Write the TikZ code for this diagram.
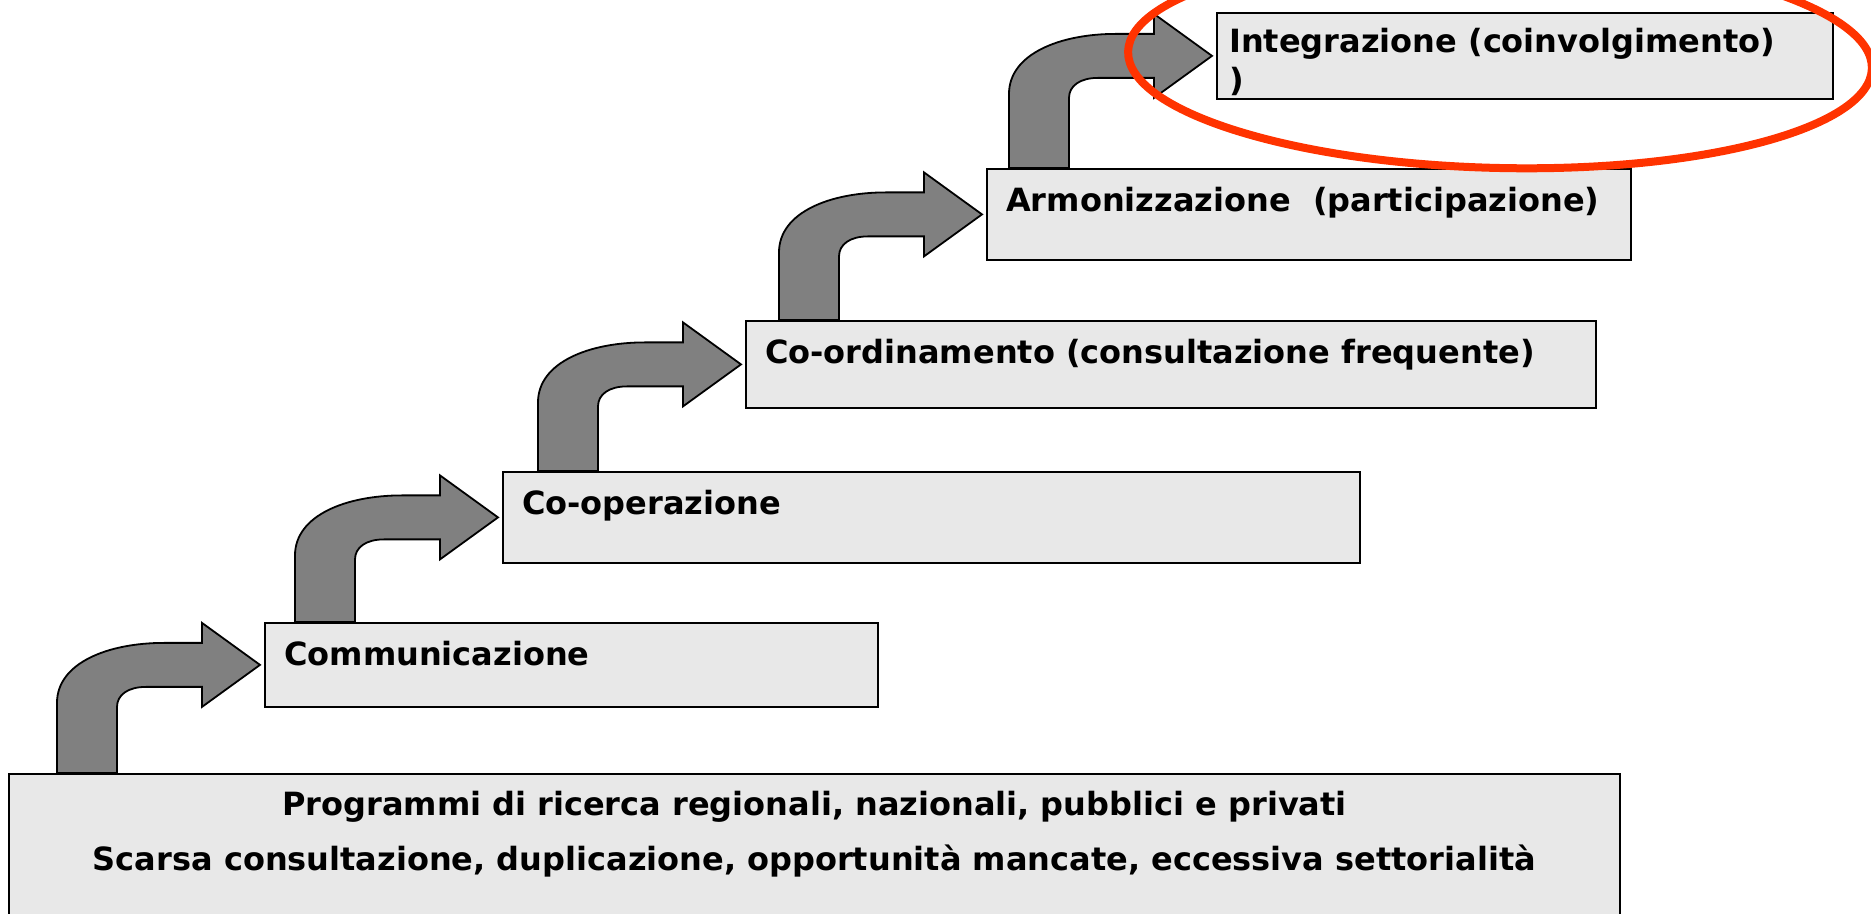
\documentclass[tikz,border=0pt]{standalone}
\usepackage{fontspec}
\setmainfont{DejaVu Sans}
\usepackage{tikz}
\usetikzlibrary{calc}
\definecolor{boxgray}{HTML}{E8E8E8}
\definecolor{arrowgray}{HTML}{808080}
\definecolor{ringred}{HTML}{FF3300}
\tikzstyle{stage} = [draw=black, fill=boxgray, line width=1.8pt, inner sep=0pt, anchor=north west]
\tikzstyle{stage text} = [font=\fontsize{32}{39}\selectfont\bfseries, anchor=base west, inner sep=0pt, align=left]
\tikzstyle{step arrow} = [draw=black, fill=arrowgray, line width=1.8pt]
\tikzstyle{ring} = [draw=ringred, line width=8pt]

% bent block arrow from the top of #1 to the west side of #2
\newcommand{\steparrow}[2]{%
  \path[step arrow] let \p1=($(#2.west)+(-4pt,0)$), \p2=(#1.north) in
    (\x1-203pt,\y2) -- (\x1-203pt,\y1-38pt)
    .. controls (\x1-203pt,\y1+2pt) and (\x1-152pt,\y1+22pt) .. (\x1-96pt,\y1+22pt)
    -- (\x1-58pt,\y1+22pt) -- (\x1-58pt,\y1+42pt) -- (\x1,\y1)
    -- (\x1-58pt,\y1-42pt) -- (\x1-58pt,\y1-22pt) -- (\x1-114pt,\y1-22pt)
    .. controls (\x1-132pt,\y1-22pt) and (\x1-143pt,\y1-30pt) .. (\x1-143pt,\y1-42pt)
    -- (\x1-143pt,\y2) -- cycle;}

\begin{document}
\begin{tikzpicture}[x=1pt, y=1pt]
    \useasboundingbox (0,0) rectangle (1871,913);
    % the stages
    \foreach \pos/\bw/\bh/\name in {{(8,140)/1611/150/base}, {(264,291)/613/84/comm},
                                   {(502,442)/857/91/coop}, {(745,593)/850/87/coord},
                                   {(986,745)/644/91/armon}, {(1216,901)/616/86/integr}}
        \node[stage, minimum width=\bw pt, minimum height=\bh pt] (\name) at \pos {};
    % texts of the stages
    \node[stage text, anchor=base] (base-text1) at ($(base.north)+(0,-43)$)
        {Programmi di ricerca regionali, nazionali, pubblici e privati};
    \node[stage text, anchor=base] (base-text2) at ($(base.north)+(0,-97)$)
        {Scarsa consultazione, duplicazione, opportunità mancate, eccessiva settorialità};
    \foreach \name/\txt in {comm/{Communicazione}, coop/{Co-operazione},
                            coord/{Co-ordinamento (consultazione frequente)},
                            armon/{Armonizzazione\ \ (participazione)}}
        \node[stage text] (\name-text) at ($(\name.north west)+(20,-44)$) {\txt};
    \node[stage text] (integr-text) at ($(integr.north west)+(13,-80)$)
        {Integrazione (coinvolgimento)\\)};
    % arrows between the stages
    \foreach \src/\dst in {base/comm, comm/coop, coop/coord, coord/armon, armon/integr}
        \steparrow{\src}{\dst};
    % highlight of the last stage
    \draw[ring, rotate around={-1.3:(1500,853)}] (1500,853) ellipse [x radius=372, y radius=108];
\end{tikzpicture}
\end{document}
